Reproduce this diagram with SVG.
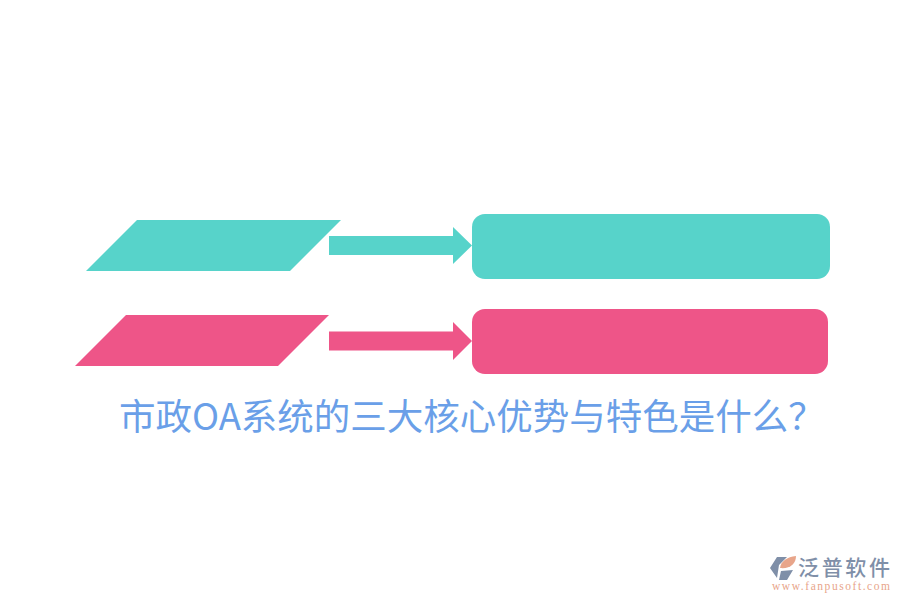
<svg xmlns="http://www.w3.org/2000/svg" width="900" height="600" viewBox="0 0 900 600">
<style>
.teal{fill:#57d3ca}
.pink{fill:#ee5588}
.title{font-family:"Noto Sans CJK SC","Liberation Sans",sans-serif;font-size:36.500px;fill:#6a9fe8}
.logo{font-family:"Noto Sans CJK SC","Liberation Sans",sans-serif;font-size:21px;fill:#7f8fa8;font-weight:500}
.url{font-family:"Liberation Serif",serif;font-size:11.500px;fill:#e8a58a}
</style>
<rect width="900" height="600" fill="#ffffff"/>
<g id="node-para-teal"><polygon class="teal" points="137,220 341,220 290,271 86,271"/></g>
<g id="node-para-pink"><polygon class="pink" points="126,315 329,315 278,366 75,366"/></g>
<g id="node-box-teal"><rect class="teal" x="472" y="214" width="358" height="65" rx="13"/></g>
<g id="node-box-pink"><rect class="pink" x="472" y="309" width="356" height="65" rx="13"/></g>
<g id="connectors">
<polygon class="teal" points="329,236 453,236 453,227 472,245.500 453,264 453,255 329,255"/>
<polygon class="pink" points="329,331.500 453,331.500 453,322 472,341 453,360 453,350.500 329,350.500"/>
</g>
<g id="node-title"><text class="title" x="119" y="430">市政OA系统的三大核心优势与特色是什么？</text></g>
<g id="node-logo">
<polygon fill="#7f8fa8" points="770,568 777,557 787,557 779,565 777,578"/>
<path fill="#e8a58a" d="M780,568 C781,561 787,557 796,556 C796,564 790,569 780,568Z"/>
<path fill="#7f8fa8" d="M781,571 L793,570 L787,580 L779,580Z"/>
<text class="logo" x="798" y="574.500" textLength="92">泛普软件</text>
<text class="url" x="772" y="590" textLength="118">www.fanpusoft.com</text>
</g>
</svg>
